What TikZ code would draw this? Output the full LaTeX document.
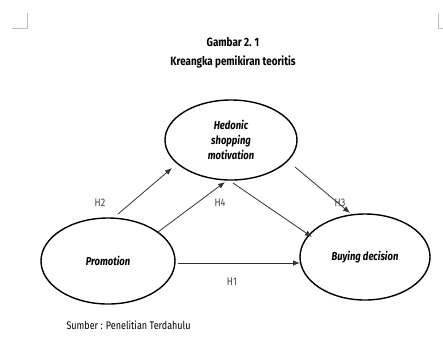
\documentclass[tikz,border=0pt]{standalone}
\usepackage{fontspec}
\setmainfont[FakeStretch=0.82]{Fira Sans}
\usetikzlibrary{shapes.geometric,arrows.meta}
\begin{document}
\begin{tikzpicture}[x=1pt,y=-1pt,
  var/.style={draw=black,line width=1.4pt,ellipse,align=center,font=\fontsize{11.5}{15}\selectfont\itshape\bfseries,inner sep=0pt},
  arr/.style={draw=black!80,line width=0.8pt,-{Latex[length=7pt,width=5.5pt]}},
  hlab/.style={font=\fontsize{11}{13}\selectfont,text=black!75},
  cornermark/.style={draw=black!25,line width=0.6pt}]
\useasboundingbox (0,0) rectangle (443,349);
\fill[white] (0,0) rectangle (443,349);
% corner marks
\draw[cornermark] (12,28) -- (27,28) -- (27,13);
\draw[cornermark] (443,28) -- (438,28) -- (438,13);
% titles
\node[font=\fontsize{12}{14}\selectfont\bfseries] (t1) at (233,42) {Gambar 2. 1};
\node[font=\fontsize{12}{14}\selectfont\bfseries] (t2) at (233,62) {Kreangka pemikiran teoritis};
% variables
\node[var,minimum height=80pt,minimum width=132pt] (hed) at (231,140) {Hedonic\\shopping\\motivation};
\node[var,minimum height=86pt,minimum width=134pt] (pro) at (108,261) {Promotion};
\node[var,minimum height=86pt,minimum width=130pt] (buy) at (365,257) {Buying decision};
% arrows
\coordinate (h2s) at (118,214); \coordinate (h2e) at (172,168);
\draw[arr] (h2s) -- (h2e);
\coordinate (h4s) at (158,232); \coordinate (h4e) at (225,182);
\draw[arr] (h4s) -- (h4e);
\coordinate (hbs) at (233,183); \coordinate (hbe) at (312,237);
\draw[arr] (hbs) -- (hbe);
\coordinate (h3s) at (295,167); \coordinate (h3e) at (350,213);
\draw[arr] (h3s) -- (h3e);
\coordinate (h1s) at (178,263); \coordinate (h1e) at (300,263);
\draw[arr] (h1s) -- (h1e);
% labels
\node[hlab] (l2) at (100,203) {H2};
\node[hlab] (l4) at (220,203) {H4};
\node[hlab] (l3) at (340,203) {H3};
\node[hlab] (l1) at (232,282) {H1};
\node[font=\fontsize{11}{13}\selectfont,anchor=west] (src) at (63,325) {Sumber : Penelitian Terdahulu};
\end{tikzpicture}
\end{document}
